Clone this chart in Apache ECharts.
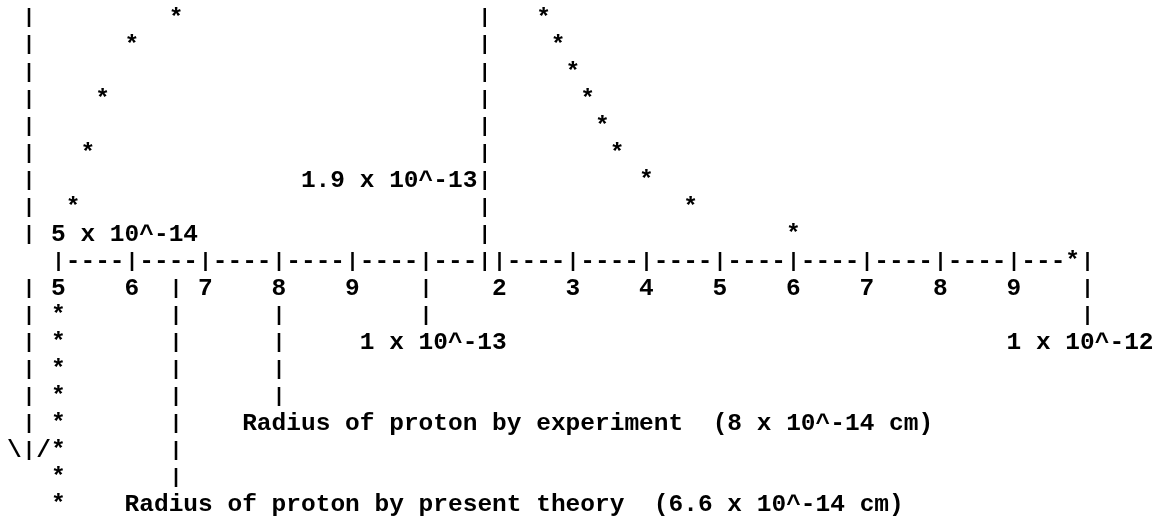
<!DOCTYPE html>
<html>
<head>
<meta charset="utf-8">
<style>
  html, body { margin: 0; padding: 0; background: #ffffff; }
  #chart { width: 1160px; height: 518px; }
</style>
<script src="https://cdn.jsdelivr.net/npm/echarts@6/dist/echarts.min.js"></script>
</head>
<body>
<div id="chart"></div>
<script>
// ---------------------------------------------------------------------------
// Data. Radii are in units of 10^-14 cm; heights are in text rows above (+)
// or below (-) the radius scale.
// ---------------------------------------------------------------------------
const risingRadius  = [5.2, 5.4, 5.6, 6.0, 6.6];
const risingHeight  = [2, 4, 6, 8, 9];
const fallingRadius = [26, 28, 30, 32, 34, 36, 40, 46, 60, 98];
const fallingHeight = [9, 8, 7, 6, 5, 4, 3, 2, 1, 0];
const plungeRadius  = [5, 5, 5, 5, 5, 5, 5, 5];
const plungeHeight  = [-2, -3, -4, -5, -6, -7, -8, -9];

const tickRadius = [5, 6, 7, 8, 9, 10, 20, 30, 40, 50, 60, 70, 80, 90, 100];
const tickLabels = ['5', '6', '7', '8', '9', '', '2', '3', '4', '5', '6', '7', '8', '9', ''];

const markerRadius = [19, 6.6, 8, 10, 100, 5];
const markerLabels = [
  '1.9 x 10^-13',
  'Radius of proton by present theory  (6.6 x 10^-14 cm)',
  'Radius of proton by experiment  (8 x 10^-14 cm)',
  '1 x 10^-13',
  '1 x 10^-12',
  '5 x 10^-14'
];

// ---------------------------------------------------------------------------
// Layout: the figure is set on a grid of monospace character cells.
// ---------------------------------------------------------------------------
const W = 1160, H = 518;
const CELL_W = 14.7;            // advance of one character
const CELL_H = 27.05;           // line pitch
const SCALE_X0 = 58.4;          // pixel x of the 5 x 10^-14 tick
const SCALE_Y0 = 261.85;        // pixel y of the scale row
const CELLS_PER_TICK = 5;
const FONT = "'Liberation Mono', 'Courier New', monospace";
const FONT_SIZE = 24.5;
const BAR_SIZE = 20;            // vertical bars are drawn a little shorter
const INK = '#000000';

// where each marker's leader runs (rows) and where its caption sits
const markerLayout = [
  { from: 9,  to: 1,  row: 3,  shift: -1, align: 'right' },
  { from: -1, to: -8, row: -9, shift: -3, align: 'left' },
  { from: -2, to: -5, row: -6, shift: -2, align: 'left' },
  { from: -1, to: -2, row: -3, shift: -4, align: 'left' },
  { from: -1, to: -2, row: -3, shift: -5, align: 'left' },
  { from: null, to: null, row: 1, shift: 0, align: 'left' }
];
const AXIS_STEP = -2 / CELLS_PER_TICK;   // height axis sits two cells left of the scale
const AXIS_TOP = 9, AXIS_BOTTOM = -7, ARROW_ROW = -7;

// position along the scale, in tick steps from 5 x 10^-14 cm
function scalePos(r) {
  return r <= 10 ? r - 5 : 5 + (r - 10) / 10;
}
// snap to a character cell
function cellPos(r) {
  return Math.floor(scalePos(r) * CELLS_PER_TICK + 1e-6) / CELLS_PER_TICK;
}

// ---------------------------------------------------------------------------
// Build the glyph series
// ---------------------------------------------------------------------------
const curve = [];
[[risingRadius, risingHeight], [fallingRadius, fallingHeight], [plungeRadius, plungeHeight]]
  .forEach(([rs, hs]) => rs.forEach((r, i) => curve.push([cellPos(r), hs[i]])));

const tickCells = tickRadius.map(r => Math.round(cellPos(r) * CELLS_PER_TICK));
const markerCells = markerRadius.map(r => Math.round(cellPos(r) * CELLS_PER_TICK));
const curveOnScale = curve.filter(p => p[1] === 0).map(p => Math.round(p[0] * CELLS_PER_TICK));

// the scale row: ticks, dashes, and a marker that crosses it
const scaleRow = [];
const firstCell = tickCells[0], lastCell = tickCells[tickCells.length - 1];
for (let k = firstCell; k <= lastCell; k++) {
  if (curveOnScale.includes(k)) continue;
  let ch = '-';
  if (tickCells.includes(k)) ch = '|';
  markerLayout.forEach((m, i) => { if (m.from !== null && m.from > 0 && markerCells[i] === k) ch = '|'; });
  scaleRow.push({ value: [k / CELLS_PER_TICK, 0], ch });
}

// leaders: marker lines and the height axis with its arrow head
const leaders = [];
markerLayout.forEach((m, i) => {
  if (m.from === null) return;
  for (let h = m.from; h >= m.to; h--) leaders.push({ value: [cellPos(markerRadius[i]), h], ch: '|' });
});
for (let h = AXIS_TOP; h >= AXIS_BOTTOM; h--) {
  if (h === 0) continue;
  leaders.push({ value: [AXIS_STEP, h], ch: '|' });
}
leaders.push({ value: [AXIS_STEP - 1 / CELLS_PER_TICK, ARROW_ROW], ch: '\\' });
leaders.push({ value: [AXIS_STEP + 1 / CELLS_PER_TICK, ARROW_ROW], ch: '/' });

// captions
const captions = markerLayout.map((m, i) => ({
  value: [cellPos(markerRadius[i]) + m.shift / CELLS_PER_TICK, m.row],
  text: markerLabels[i],
  align: m.align
}));

// ---------------------------------------------------------------------------
// Chart: the grid's bottom edge is the scale row, so the x axis labels hang
// one text row below it; marks below the scale extend past the grid.
// ---------------------------------------------------------------------------
const TICK_PX = CELL_W * CELLS_PER_TICK;
const xMin = -SCALE_X0 / TICK_PX;
const xMax = (W - SCALE_X0) / TICK_PX;
const yMax = SCALE_Y0 / CELL_H;

const textStyle = {
  color: INK, fontFamily: FONT, fontWeight: 'bold', fontSize: FONT_SIZE,
  textBorderWidth: 0, textBorderColor: 'transparent', textShadowBlur: 0
};

function glyphItem(d) {
  const item = { value: d.value, ch: d.ch };
  if (d.ch === '|') item.label = { fontSize: BAR_SIZE };
  return item;
}

// scatter items are invisible anchors; only their text labels are drawn
const anchorStyle = { color: 'rgba(0,0,0,0)', opacity: 1 };

function glyphSeries(name, data, formatter) {
  return {
    name,
    type: 'scatter',
    data,
    clip: false,
    silent: true,
    symbol: 'circle',
    symbolSize: 0.1,
    itemStyle: anchorStyle,
    label: Object.assign({ show: true, position: 'inside', formatter }, textStyle),
    emphasis: { disabled: true }
  };
}

const chart = echarts.init(document.getElementById('chart'), null, { renderer: 'canvas' });
chart.setOption({
  animation: false,
  backgroundColor: '#ffffff',
  grid: { left: 0, right: 0, top: 0, bottom: H - SCALE_Y0, containLabel: false, outerBoundsMode: 'none' },
  xAxis: {
    type: 'value',
    position: 'bottom',
    min: xMin,
    max: xMax,
    axisLine: { show: false, onZero: false },
    axisTick: { show: false },
    splitLine: { show: false },
    axisLabel: Object.assign({
      customValues: tickRadius.map(cellPos),
      formatter: v => tickLabels[Math.round(v)] || '',
      verticalAlign: 'middle',
      margin: CELL_H,
      hideOverlap: false
    }, textStyle)
  },
  yAxis: {
    type: 'value',
    min: 0,
    max: yMax,
    show: false,
    splitLine: { show: false }
  },
  series: [
    glyphSeries('curve', curve, () => '*'),
    glyphSeries('scale', scaleRow.map(glyphItem), p => p.data.ch),
    glyphSeries('leaders', leaders.map(glyphItem), p => p.data.ch),
    {
      name: 'captions',
      type: 'scatter',
      clip: false,
      silent: true,
      symbol: 'circle',
      symbolSize: 0.1,
      itemStyle: anchorStyle,
      emphasis: { disabled: true },
      data: captions.map(c => ({
        value: c.value,
        label: {
          align: c.align,
          offset: [c.align === 'left' ? -CELL_W / 2 : CELL_W / 2, 0]
        }
      })),
      label: Object.assign({
        show: true,
        position: 'inside',
        formatter: p => captions[p.dataIndex].text
      }, textStyle)
    }
  ]
});
</script>
</body>
</html>
